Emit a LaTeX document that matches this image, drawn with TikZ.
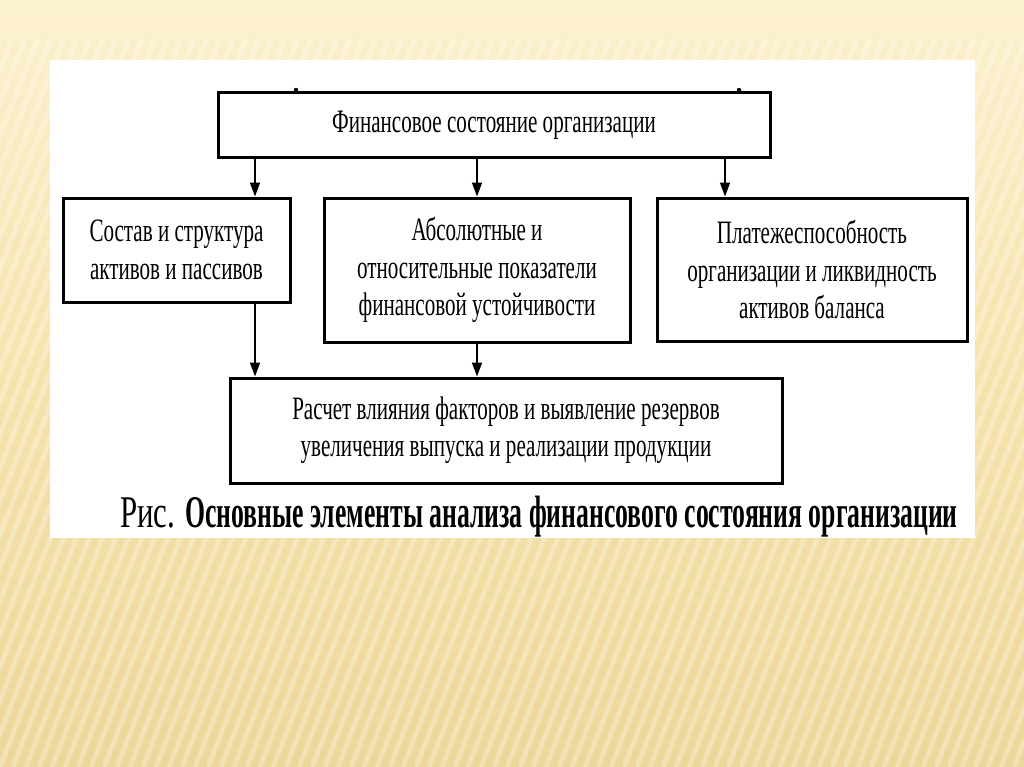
\documentclass[tikz,border=0pt]{standalone}
\usepackage{fontspec}
\setmainfont{Liberation Serif}
\newfontfamily\boxf[FakeStretch=0.645]{Liberation Serif}
\newfontfamily\capf[FakeStretch=0.567]{Liberation Serif}
\newfontfamily\risf[FakeStretch=0.68]{Liberation Serif}
\usetikzlibrary{arrows.meta,calc}
\definecolor{bgtop}{HTML}{FCF1CF}
\definecolor{bgmid}{HTML}{F6E3AC}
\definecolor{bgbot}{HTML}{EDD699}
\tikzset{
  box/.style={draw=black, line width=2.25pt, fill=white, align=center, inner sep=0pt,
    font=\boxf\fontsize{24.5}{28}\selectfont},
  arr/.style={line width=1.2pt, -{Triangle[length=10.5pt, width=7.5pt]}},
  stripe/.style={white, line width=3.75pt, opacity=0.28}
}
\begin{document}
\begin{tikzpicture}[x=0.75pt, y=-0.75pt]
\useasboundingbox (0,0) rectangle (1024,767);
% background
\shade[top color=bgtop, bottom color=bgbot, middle color=bgmid] (0,0) rectangle (1024,767);
\begin{scope}
\clip (0,40) rectangle (1024,767);
\foreach \i in {-30,...,82} {
  \draw[stripe] (\i*13, 767) -- ++(300, -767);
}
\end{scope}
\fill[bgtop, opacity=0.6] (0,0) rectangle (1024,35);
% white panel
\fill[white] (50,60) rectangle (975,538);
% boxes
\node[box, minimum width=414pt, minimum height=48pt] (top) at (494,125)
  {Финансовое состояние организации};
\node[box, minimum width=170.25pt, minimum height=78pt] (l) at (176.5,250)
  {Состав и структура\\активов и пассивов};
\node[box, minimum width=229.5pt, minimum height=108pt] (m) at (477,270)
  {Абсолютные и\\относительные показатели\\финансовой устойчивости};
\node[box, minimum width=232.5pt, minimum height=107.25pt] (r) at (812,269.5)
  {Платежеспособность\\организации и ликвидность\\активов баланса};
\node[box, minimum width=414pt, minimum height=78.75pt] (b) at (506,430.5)
  {Расчет влияния факторов и выявление резервов\\увеличения выпуска и реализации продукции};
% arrow positions
\coordinate (c1) at (255,0);
\coordinate (c3) at (725,0);
\draw[arr] (top.south -| c1) -- (l.north -| c1);
\draw[arr] (top.south -| m.north) -- (m.north);
\draw[arr] (top.south -| c3) -- (r.north -| c3);
\draw[arr] (l.south -| c1) -- (b.north -| c1);
\draw[arr] (m.south) -- (b.north -| m.south);
% small marks above top box
\fill (296,90) circle (2.2);
\fill (739,90) circle (2.2);
% caption
\node[anchor=base west, inner sep=0pt, font=\risf\fontsize{34}{40}\selectfont] (ris) at (120,527) {Рис.};
\node[anchor=base west, inner sep=0pt, font=\capf\bfseries\fontsize{34}{40}\selectfont] (cap) at (185,527)
  {Основные элементы анализа финансового состояния организации};
\end{tikzpicture}
\end{document}
